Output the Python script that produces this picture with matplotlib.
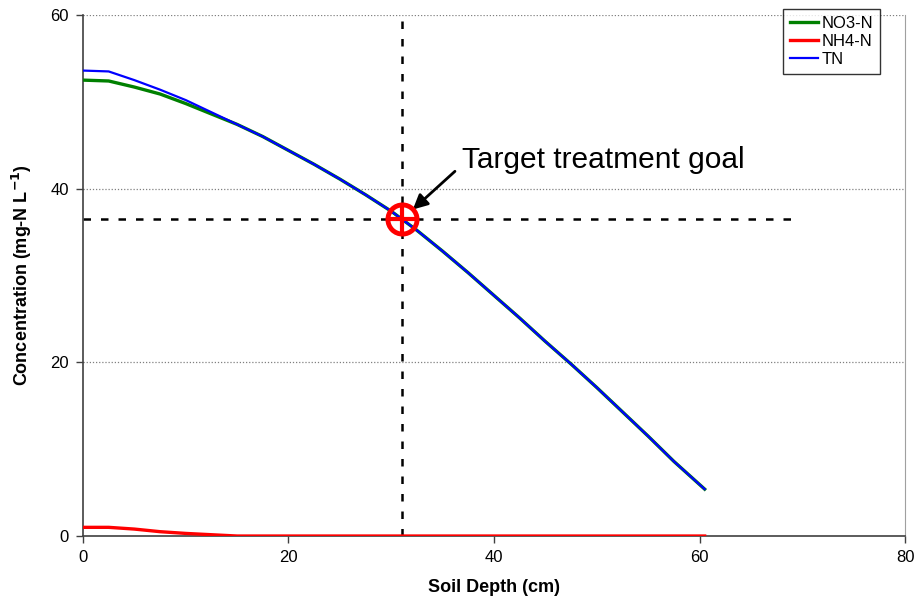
import matplotlib
matplotlib.use('Agg')
import matplotlib.pyplot as plt

plt.rcParams['font.family'] = ['Liberation Sans', 'DejaVu Sans']

# soil depth (cm) and concentrations (mg-N/L)
depth = [0, 2.5, 5, 7.5, 10, 12.5, 15, 17.5, 20, 22.5, 25, 27.5, 30, 32.5,
         35, 37.5, 40, 42.5, 45, 47.5, 50, 52.5, 55, 57.5, 60.5]
tn = [53.6, 53.5, 52.5, 51.4, 50.2, 48.8, 47.4, 46.0, 44.4, 42.8, 41.1, 39.3,
      37.4, 35.2, 32.8, 30.3, 27.7, 25.1, 22.4, 19.8, 17.1, 14.3, 11.5, 8.6, 5.4]
no3 = [52.5, 52.4, 51.7, 50.9, 49.8, 48.6, 47.4, 46.0, 44.4, 42.8, 41.1, 39.3,
       37.4, 35.2, 32.8, 30.3, 27.7, 25.1, 22.4, 19.8, 17.1, 14.3, 11.5, 8.6, 5.4]
nh4 = [1.0, 1.0, 0.8, 0.5, 0.3, 0.15, 0.0, 0, 0, 0, 0, 0, 0, 0,
       0, 0, 0, 0, 0, 0, 0, 0, 0, 0, 0]

goal_depth = 31
goal_conc = 36.5
goal_line_end = 69.5

fig = plt.figure(figsize=(9.19, 6.02), dpi=100)
ax = fig.add_axes([0.0903, 0.1096, 0.8945, 0.8655])

for y in [20, 40, 60]:
    ax.axhline(y, color='#808080', lw=0.9, ls=(0, (1, 1.5)), zorder=0)

ax.plot(depth, no3, color='#008000', lw=2.4, label='NO3-N', zorder=3)
ax.plot(depth, nh4, color='#ff0000', lw=2.4, label='NH4-N', zorder=3)
ax.plot(depth, tn, color='#0000ff', lw=1.6, label='TN', zorder=4)

ax.plot([0, goal_line_end], [goal_conc, goal_conc], color='black', lw=1.8,
        ls=(0, (3, 4)), zorder=2)
ax.plot([goal_depth, goal_depth], [0, 60], color='black', lw=1.8,
        ls=(0, (3, 4)), zorder=2)

ax.plot(goal_depth, goal_conc, marker='o', ms=21, mfc='none', mec='#ff0000',
        mew=3.5, zorder=5)
ax.plot(goal_depth, goal_conc, marker='+', ms=19, mec='#ff0000', mew=3,
        zorder=5)

ax.text(36.9, 43.3, 'Target treatment goal', fontsize=21.5, va='center',
        ha='left')
ax.annotate('', xy=(32.1, 37.6), xytext=(36.2, 42.0),
            arrowprops=dict(arrowstyle='-|>', color='black', lw=2,
                            mutation_scale=22, shrinkA=0, shrinkB=0))

ax.set_xlim(0, 80)
ax.set_ylim(0, 60)
ax.set_xticks([0, 20, 40, 60, 80])
ax.set_yticks([0, 20, 40, 60])
ax.tick_params(labelsize=12, length=5, width=1, color='#404040', pad=5)

ax.spines['top'].set_visible(False)
ax.spines['right'].set_color('#a0a0a0')
ax.spines['left'].set_color('#404040')
ax.spines['bottom'].set_color('#404040')
ax.spines['left'].set_linewidth(1.2)
ax.spines['bottom'].set_linewidth(1.2)

ax.set_xlabel('Soil Depth (cm)', fontsize=13, fontweight='bold', labelpad=10)
ax.set_ylabel('Concentration (mg-N L$^{\\mathbf{-1}}$)', fontsize=13,
              fontweight='bold', labelpad=12)

leg = ax.legend(loc='upper right', bbox_to_anchor=(0.9696, 1.0115),
                fontsize=12, frameon=True, fancybox=False, handlelength=1.7,
                handletextpad=0.2, borderpad=0.4, labelspacing=0.2,
                borderaxespad=0)
leg.get_frame().set_edgecolor('black')
leg.get_frame().set_linewidth(1)

fig.savefig('out.png', dpi=100)
